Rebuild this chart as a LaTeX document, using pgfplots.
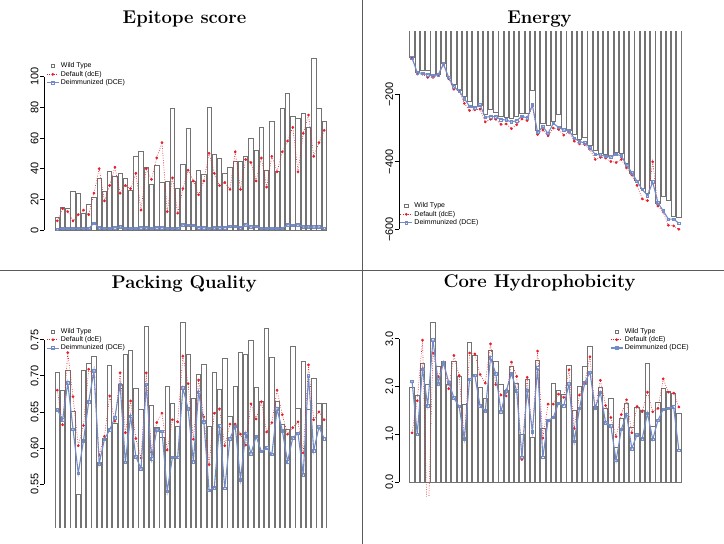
\documentclass[border=0pt]{standalone}
\usepackage{fontspec}
\usepackage{pgfplots}
\pgfplotsset{compat=1.18}
\usepackage{pgfplotstable}
\newfontfamily\arial{Liberation Sans}
\definecolor{barc}{RGB}{115,115,115}
\definecolor{dred}{RGB}{232,30,40}
\definecolor{dblue}{RGB}{115,140,200}
\definecolor{sep}{RGB}{90,90,90}

\pgfplotstableread[row sep=\\]{
i wt dr db\\
1 8 6 0.5\\ 2 15 14 1\\ 3 14 12 1\\ 4 25 6 1\\ 5 24 10 1\\ 6 11 13 1\\ 7 17 10 1\\ 8 21 24 4.5\\ 9 34 40 1.5\\ 10 25 19 1\\
11 38 29 1\\ 12 35 41 1.5\\ 13 37 24 2\\ 14 34 29 1\\ 15 26 27 1\\ 16 48 37 1\\ 17 51 13 1.5\\ 18 41 40 1.5\\ 19 30 33 1\\ 20 42 47 1.5\\
21 31 57 1.5\\ 22 32 12 1\\ 23 79 34 1\\ 24 27 11 1\\ 25 43 27 3.5\\ 26 66 39 3\\ 27 32 32 3\\ 28 39 23 1.5\\ 29 36 32 1.5\\ 30 80 50 1\\
31 49 37 1.5\\ 32 47 29 1.5\\ 33 37 31 1.5\\ 34 41 26.5 2.5\\ 35 45 51 2.5\\ 36 45 26.5 1.5\\ 37 48 46 3.5\\ 38 60 44 2\\ 39 52 32 2.5\\ 40 67 47 1\\
41 39 28 1\\ 42 71 48 1\\ 43 38 38 1\\ 44 79 51 1\\ 45 89 58 3.5\\ 46 74 67 3\\ 47 73 38 3.5\\ 48 76 63 2\\ 49 67 75 2\\ 50 112 48 2\\
51 79 57 2\\ 52 71 65 1\\
}\epitope

\pgfplotstableread[row sep=\\]{
i wt dr db\\
1 -90 -93 -92\\ 2 -136 -140 -136\\ 3 -128 -140 -138\\ 4 -130 -150 -142\\ 5 -140 -150 -145\\ 6 -140 -143 -142\\ 7 -108 -113 -110\\ 8 -146 -154 -150\\ 9 -172 -185 -178\\ 10 -187 -189 -190\\
11 -207 -227 -213\\ 12 -222 -248 -236\\ 13 -235 -246 -240\\ 14 -232 -244 -232\\ 15 -261 -282 -268\\ 16 -246 -274 -266\\ 17 -254 -274 -266\\ 18 -266 -289 -275\\ 19 -268 -288 -276\\ 20 -271 -302 -282\\
21 -266 -290 -278\\ 22 -256 -273 -265\\ 23 -256 -278 -270\\ 24 -187 -235 -232\\ 25 -306 -319 -313\\ 26 -286 -306 -296\\ 27 -291 -323 -316\\ 28 -281 -300 -286\\ 29 -261 -304 -298\\ 30 -301 -321 -306\\
31 -306 -313 -308\\ 32 -320 -339 -330\\ 33 -335 -347 -340\\ 34 -327 -349 -344\\ 35 -350 -363 -358\\ 36 -367 -393 -378\\ 37 -375 -387 -380\\ 38 -378 -389 -384\\ 39 -380 -399 -386\\ 40 -373 -402 -378\\
41 -375 -393 -382\\ 42 -404 -418 -410\\ 43 -434 -439 -432\\ 44 -454 -470 -458\\ 45 -479 -510 -482\\ 46 -493 -515 -500\\ 47 -454 -400 -460\\ 48 -523 -531 -522\\ 49 -503 -549 -545\\ 50 -513 -588 -570\\
51 -562 -590 -570\\ 52 -565 -600 -582\\
}\energy

\pgfplotstableread[row sep=\\]{
i wt dr db\\
1 0.705 0.680 0.653\\ 2 0.680 0.632 0.639\\ 3 0.707 0.732 0.690\\ 4 0.651 0.671 0.626\\ 5 0.536 0.603 0.565\\ 6 0.707 0.631 0.610\\ 7 0.717 0.709 0.664\\ 8 0.727 0.698 0.707\\ 9 0.580 0.590 0.578\\ 10 0.613 0.616 0.612\\
11 0.714 0.672 0.625\\ 12 0.634 0.637 0.642\\ 13 0.688 0.704 0.688\\ 14 0.730 0.621 0.580\\ 15 0.735 0.665 0.644\\ 16 0.682 0.613 0.588\\ 17 0.654 0.586 0.571\\ 18 0.768 0.704 0.688\\ 19 0.659 0.594 0.585\\ 20 0.629 0.635 0.625\\
21 0.614 0.648 0.623\\ 22 0.685 0.597 0.540\\ 23 0.662 0.639 0.587\\ 24 0.630 0.636 0.587\\ 25 0.774 0.727 0.683\\ 26 0.730 0.689 0.654\\ 27 0.668 0.612 0.581\\ 28 0.702 0.694 0.677\\ 29 0.716 0.643 0.636\\ 30 0.630 0.577 0.541\\
31 0.705 0.648 0.545\\ 32 0.681 0.654 0.631\\ 33 0.724 0.603 0.544\\ 34 0.644 0.633 0.613\\ 35 0.685 0.633 0.630\\ 36 0.732 0.619 0.556\\ 37 0.730 0.604 0.620\\ 38 0.749 0.661 0.592\\ 39 0.684 0.640 0.616\\ 40 0.664 0.664 0.595\\
41 0.765 0.622 0.600\\ 42 0.726 0.635 0.591\\ 43 0.664 0.680 0.654\\ 44 0.632 0.646 0.624\\ 45 0.626 0.619 0.581\\ 46 0.741 0.628 0.614\\ 47 0.655 0.636 0.620\\ 48 0.720 0.593 0.563\\ 49 0.653 0.715 0.700\\ 50 0.696 0.639 0.596\\
51 0.662 0.650 0.629\\ 52 0.662 0.639 0.613\\
}\packing

\pgfplotstableread[row sep=\\]{
i wt dr db\\
1 1.97 1.03 2.11\\ 2 1.81 1.70 1.00\\ 3 2.49 2.97 2.36\\ 4 2.04 -1.2 1.60\\ 5 3.35 2.70 2.98\\ 6 2.42 2.20 2.06\\ 7 2.53 2.51 2.50\\ 8 2.05 1.95 2.09\\ 9 2.53 2.65 1.76\\ 10 2.22 2.23 1.58\\
11 1.63 0.89 0.90\\ 12 2.92 2.70 2.15\\ 13 2.64 2.68 2.23\\ 14 1.98 2.25 1.59\\ 15 1.74 2.07 1.49\\ 16 2.76 2.89 2.60\\ 17 2.53 2.04 2.27\\ 18 2.05 1.82 1.47\\ 19 1.92 1.80 1.91\\ 20 2.42 2.51 2.27\\
21 2.06 2.21 1.91\\ 22 1.00 0.47 0.52\\ 23 2.14 2.19 1.92\\ 24 0.94 1.03 1.05\\ 25 2.55 2.74 2.39\\ 26 1.13 0.92 0.52\\ 27 1.28 1.63 1.29\\ 28 2.06 1.63 1.35\\ 29 1.91 1.84 1.65\\ 30 1.84 1.77 1.60\\
31 2.44 2.35 2.05\\ 32 1.49 1.12 0.85\\ 33 2.00 1.82 1.54\\ 34 2.42 2.07 2.07\\ 35 2.83 2.62 2.30\\ 36 1.59 1.54 1.54\\ 37 1.99 2.13 1.88\\ 38 1.55 1.60 1.24\\ 39 1.76 1.35 1.17\\ 40 0.73 0.95 0.45\\
41 1.33 1.41 1.10\\ 42 1.65 1.72 1.42\\ 43 1.15 1.03 0.70\\ 44 1.56 1.58 0.99\\ 45 1.50 1.47 0.91\\ 46 2.49 1.88 1.44\\ 47 1.17 1.47 0.89\\ 48 1.66 1.54 1.29\\ 49 1.95 2.16 1.52\\ 50 1.90 1.88 1.54\\
51 1.86 1.86 1.57\\ 52 1.43 1.57 0.66\\
}\core

\pgfplotsset{
  panel/.style={
    scale only axis, width=292.9bp,
    xmin=-1.49, xmax=54.49,
    axis x line=none, axis y line*=left,
    y axis line style={draw=none},
    tick align=outside, major tick length=4.3bp,
    every tick/.style={black, line width=0.6bp},
    yticklabel style={rotate=90, anchor=south, inner sep=1.2bp,
      font=\arial\fontsize{11}{12}\selectfont},
    clip mode=individual,
    legend cell align=left,
    legend style={draw=none, fill=none, inner sep=0pt, row sep=0.5bp,
      font=\arial\fontsize{7}{7.5}\selectfont,
      nodes={inner sep=0.6bp, inner xsep=1.6bp, text height=5.2bp, text depth=1.4bp}},
    legend image code/.code={\draw[mark repeat=2,mark phase=2,##1] plot coordinates {(0bp,0bp) (6bp,0bp) (12bp,0bp)};},
  },
  wt/.style={ybar, bar width=0.8333, draw=barc, fill=white, line width=0.75bp, forget plot},
  dre/.style={dred, dash pattern=on 0.8bp off 1.6bp, line width=0.6bp, mark=*, mark size=1.05bp,
    mark options={solid, fill=dred, draw=dred}},
  dbl/.style={dblue, line width=1.1bp, mark=square, mark size=1.3bp, mark options={solid, line width=0.6bp}},
  wtleg/.style={only marks, mark=square, mark size=1.6bp, draw=barc, mark options={line width=0.5bp}},
}

\begin{document}
\begin{tikzpicture}[x=1bp,y=1bp]
\path[use as bounding box] (0,0) rectangle (724,544);

% ---------- Epitope score ----------
\begin{axis}[panel, at={(44.3bp,307.1bp)}, anchor=south west, height=185.5bp,
  ymin=-4.48, ymax=116.48, ytick={0,20,40,60,80,100}, yticklabels={0,20,40,60,80,100},
  legend style={at={(0.006,0.943)}, anchor=north west}]
\addlegendimage{wtleg}\addlegendentry{Wild Type}
\addplot[wt] table[x=i,y=wt]{\epitope};
\addplot[dre] table[x=i,y=dr]{\epitope};\addlegendentry{Default (dcE)}
\addplot[dbl] table[x=i,y=db]{\epitope};\addlegendentry{Deimmunized (DCE)}
\draw[black, line width=0.6bp] (axis cs:-1.49,0) -- (axis cs:-1.49,100);
\end{axis}

% ---------- Energy ----------
\begin{axis}[panel, at={(399.0bp,307.8bp)}, anchor=south west, height=206.2bp,
  ymin=-620.4, ymax=-9.5, ytick={-600,-400,-200}, yticklabels={−600,−400,−200},
  legend style={at={(0.002,0.166)}, anchor=north west}]
\addlegendimage{wtleg}\addlegendentry{Wild Type}
\addplot[wt] table[x=i,y=wt]{\energy};
\draw[white, line width=1.6bp] (rel axis cs:0,1) -- (rel axis cs:1,1);
\addplot[dre] table[x=i,y=dr]{\energy};\addlegendentry{Default (dcE)}
\addplot[dbl] table[x=i,y=db]{\energy};\addlegendentry{Deimmunized (DCE)}
\draw[black, line width=0.6bp] (axis cs:-1.49,-600) -- (axis cs:-1.49,-200);
\end{axis}

% ---------- Packing Quality ----------
\begin{axis}[panel, at={(44.3bp,15.0bp)}, anchor=south west, height=213.6bp,
  ymin=0.4876, ymax=0.7836, ytick={0.55,0.60,0.65,0.70,0.75},
  yticklabels={0.55,0.60,0.65,0.70,0.75},
  legend style={at={(0.006,0.944)}, anchor=north west}]
\addlegendimage{wtleg}\addlegendentry{Wild Type}
\addplot[wt] table[x=i,y=wt]{\packing};
\draw[white, line width=1.6bp] (rel axis cs:0,0) -- (rel axis cs:1,0);
\addplot[dre] table[x=i,y=dr]{\packing};\addlegendentry{Default (dcE)}
\addplot[dbl] table[x=i,y=db]{\packing};\addlegendentry{Deimmunized (DCE)}
\draw[black, line width=0.6bp] (axis cs:-1.49,0.55) -- (axis cs:-1.49,0.75);
\end{axis}

% ---------- Core Hydrophobicity ----------
\begin{axis}[panel, at={(399.0bp,47.7bp)}, anchor=south west, height=181.5bp,
  ymin=-0.3, ymax=3.5, ytick={0,1,2,3}, yticklabels={0.0,1.0,2.0,3.0},
  legend style={at={(0.720,0.931)}, anchor=north west}]
\addlegendimage{wtleg}\addlegendentry{Wild Type}
\addplot[wt] table[x=i,y=wt]{\core};
\addplot[dre] table[x=i,y=dr]{\core};\addlegendentry{Default (dcE)}
\addplot[dbl] table[x=i,y=db]{\core};\addlegendentry{Deimmunized (DCE)}
\draw[black, line width=0.6bp] (axis cs:-1.49,0) -- (axis cs:-1.49,3);
\end{axis}

% titles
\node[anchor=base, font=\fontsize{18.5}{20}\selectfont\bfseries] at (184.5,520.7) {Epitope score};
\node[anchor=base, font=\fontsize{18.5}{20}\selectfont\bfseries] at (539.5,520.0) {Energy};
\node[anchor=base, font=\fontsize{18.5}{20}\selectfont\bfseries] at (184.2,255.3) {Packing Quality};
\node[anchor=base, font=\fontsize{18.5}{20}\selectfont\bfseries] at (539.5,256.0) {Core Hydrophobicity};

% panel separators
\draw[sep, line width=0.9bp] (362,0) -- (362,544);
\draw[sep, line width=0.9bp] (0,273.5) -- (724,273.5);
\end{tikzpicture}
\end{document}
